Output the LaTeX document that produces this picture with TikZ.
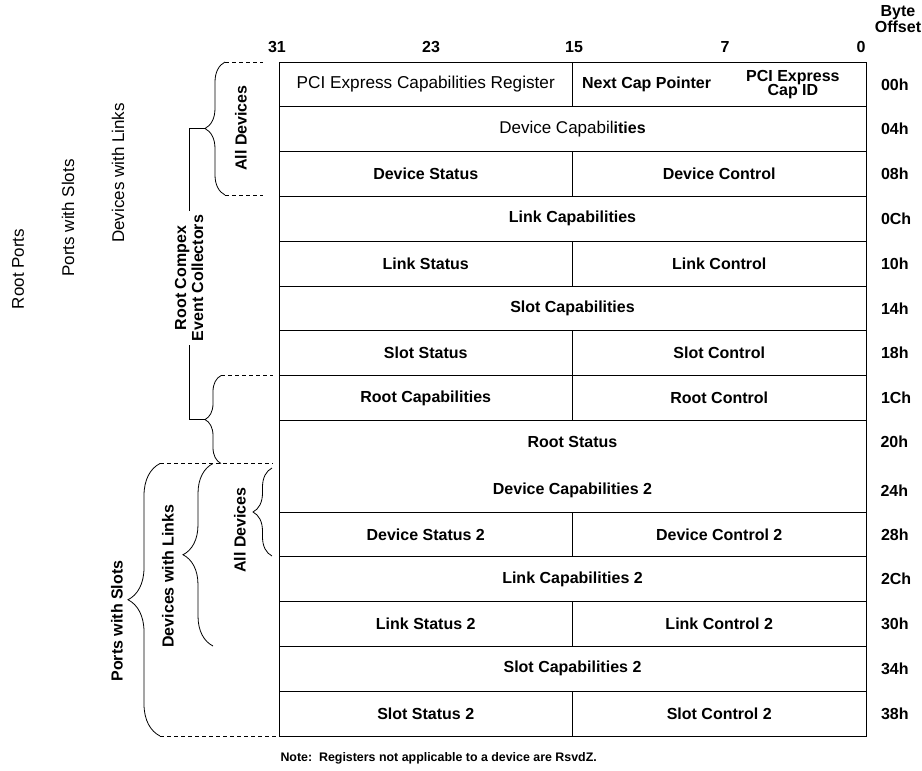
\documentclass[tikz,border=0pt]{standalone}
\usepackage{fontspec}
\setmainfont{Liberation Sans}
\usetikzlibrary{positioning,decorations.pathreplacing}
\tikzset{
% Register cells: a full 32-bit row and a 16-bit half row
full cell/.style={draw,line width=1pt,minimum width=587pt,minimum height=44.8pt,inner sep=0pt,font=\bfseries\fontsize{16}{17}\selectfont},
half cell/.style={full cell,minimum width=293.5pt},
cell text/.style={inner sep=0pt,font=\bfseries\fontsize{16}{17}\selectfont},
% Labels round the table
bit label/.style={font=\bfseries\fontsize{16}{17}\selectfont},
offset label/.style={font=\bfseries\fontsize{16}{17}\selectfont},
side label/.style={rotate=90,font=\fontsize{17}{18}\selectfont},
group label/.style={rotate=90,align=center,font=\bfseries\fontsize{16}{17}\selectfont},
% Curly braces and dashed guide lines
curly/.style={decorate,line width=0.8pt,decoration={brace,amplitude=#1}},
guide/.style={line width=0.8pt,dash pattern=on 4pt off 3pt}
}

\begin{document}
\begin{tikzpicture}[x=1pt,y=-1pt]
      \useasboundingbox (0,0) rectangle (922,771);
      % Bit numbers and byte offset heading
      \node[bit label] (b31) at (277,47) {31};
      \node[bit label] (b23) at (431,47) {23};
      \node[bit label] (b15) at (574,47) {15};
      \node[bit label] (b7) at (725,47) {7};
      \node[bit label] (b0) at (861,47) {0};
      \node[bit label,align=center,font=\bfseries\fontsize{16}{13.5}\selectfont] (boff) at (898,19) {Byte\\Offset};
      % 00h
      \node[half cell,font=\fontsize{17.2}{18}\selectfont] (pcicap) at (425.75,84.4) {PCI Express Capabilities Register};
      \node[half cell] (capptr) at (719.25,84.4) {};
      \node[cell text] (nxtptr) at (646.6,84.4) {Next Cap Pointer};
      \node[cell text,align=center,font=\bfseries\fontsize{16}{14.5}\selectfont] (capid) at (792.9,84.4) {PCI Express\\Cap ID};
      % 04h - 1Ch
      \node[full cell] (devcap) at (572.5,129.2) {{\mdseries\fontsize{17}{18}\selectfont Device Capabil}ities};
      \node[half cell] (devsts) at (425.75,174) {Device Status};
      \node[half cell] (devctl) at (719.25,174) {Device Control};
      \node[full cell] (lnkcap) at (572.5,218.8) {Link Capabilities};
      \node[half cell] (lnksts) at (425.75,263.6) {Link Status};
      \node[half cell] (lnkctl) at (719.25,263.6) {Link Control};
      \node[full cell] (sltcap) at (572.5,308.4) {Slot Capabilities};
      \node[half cell] (sltsts) at (425.75,353.2) {Slot Status};
      \node[half cell] (sltctl) at (719.25,353.2) {Slot Control};
      \node[half cell] (rtcap) at (425.75,398) {Root Capabilities};
      \node[half cell] (rtctl) at (719.25,398) {Root Control};
      % 20h and 24h share one box
      \node[full cell,minimum height=91.6pt] (r20) at (572.5,466.2) {};
      \node[cell text] (rtsts) at (572.5,441.5) {Root Status};
      \node[cell text] (devcap2) at (572.5,490.5) {Device Capabilities 2};
      % 28h - 38h
      \node[half cell] (devsts2) at (425.75,534.4) {Device Status 2};
      \node[half cell] (devctl2) at (719.25,534.4) {Device Control 2};
      \node[full cell] (lnkcap2) at (572.5,579.2) {Link Capabilities 2};
      \node[half cell] (lnksts2) at (425.75,624) {Link Status 2};
      \node[half cell] (lnkctl2) at (719.25,624) {Link Control 2};
      \node[full cell] (sltcap2) at (572.5,668.8) {Slot Capabilities 2};
      \node[half cell] (sltsts2) at (425.75,713.6) {Slot Status 2};
      \node[half cell] (sltctl2) at (719.25,713.6) {Slot Control 2};
      % Byte offsets
      \node[offset label,right=11pt of capptr] (o00) {00h};
      \node[offset label,right=11pt of devcap] (o04) {04h};
      \node[offset label,right=11pt of devctl] (o08) {08h};
      \node[offset label,right=11pt of lnkcap] (o0C) {0Ch};
      \node[offset label,right=11pt of lnkctl] (o10) {10h};
      \node[offset label,right=11pt of sltcap] (o14) {14h};
      \node[offset label,right=11pt of sltctl] (o18) {18h};
      \node[offset label,right=11pt of rtctl] (o1C) {1Ch};
      \node[offset label,anchor=west] (o20) at (877,441.5) {20h};
      \node[offset label,anchor=west] (o24) at (877,490.5) {24h};
      \node[offset label,right=11pt of devctl2] (o28) {28h};
      \node[offset label,right=11pt of lnkcap2] (o2C) {2Ch};
      \node[offset label,right=11pt of lnkctl2] (o30) {30h};
      \node[offset label,right=11pt of sltcap2] (o34) {34h};
      \node[offset label,right=11pt of sltctl2] (o38) {38h};
      % Note under the table
      \node[anchor=west,font=\bfseries\fontsize{12.4}{14}\selectfont] (note) at (277,758) {Note:\ \ Registers not applicable to a device are RsvdZ.};
      % Plain labels at the far left
      \node[side label] (rtports) at (18,269) {Root Ports};
      \node[side label] (ptslots) at (68,218) {Ports with Slots};
      \node[side label] (devlinks) at (118,173) {Devices with Links};
      % Upper braces
      \draw[curly=20pt] (225,195) coordinate (ad1b) -- (225,62) coordinate (ad1t);
      \draw[guide] (ad1t) -- (263,62);
      \draw[guide] (ad1b) -- (263,195);
      \node[group label] (alldev1) at (241,128) {All Devices};
      \draw[curly=16pt] (221,463.5) -- (221,375.6) coordinate (rtt);
      \draw[guide] (rtt) -- (273,375.6);
      % Root complex bracket joins the two brace tips
      \coordinate (rcT) at (205,128.5);
      \coordinate (rcB) at (205,419.6);
      \node[group label] (rcec) at (189,278) {Root Compex\\Event Collectors};
      \draw[line width=0.8pt] (rcT) -| (rcec.east);
      \draw[line width=0.8pt] (rcB) -| (rcec.west);
      % Lower braces
      \draw[curly=32pt] (160,736) coordinate (psb) -- (160,463.5) coordinate (pst);
      \draw[guide] (pst) -- (273,463.5);
      \draw[guide] (psb) -- (279,736);
      \node[group label] (ptslots2) at (117,621) {Ports with Slots};
      \draw[curly=30pt] (213,646) -- (213,463.5);
      \node[group label] (devlinks2) at (168,576) {Devices with Links};
      \draw[curly=19pt] (272,556) -- (272,468);
      \node[group label] (alldev2) at (240,530) {All Devices};
\end{tikzpicture}
\end{document}
